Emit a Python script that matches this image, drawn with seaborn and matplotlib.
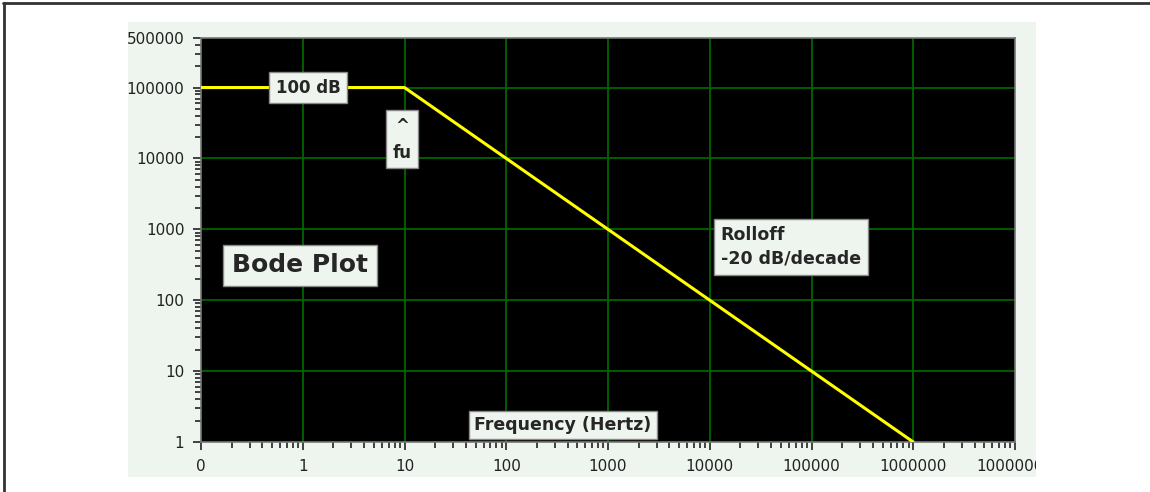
import numpy as np
import pandas as pd
import matplotlib
matplotlib.use("Agg")
import matplotlib.pyplot as plt
from matplotlib.patches import Rectangle
import seaborn as sns

# Dữ liệu
freq = [0.1, 1, 10, 100, 1000, 10000, 100000, 1000000]
gain = [100000, 100000, 100000, 10000, 1000, 100, 10, 1]

x_ticks = [0.1, 1, 10, 100, 1000, 10000, 100000, 1000000, 10000000]
x_labels = ["0", "1", "10", "100", "1000", "10000", "100000", "1000000", "10000000"]
y_ticks = [1, 10, 100, 1000, 10000, 100000, 500000]
y_labels = ["1", "10", "100", "1000", "10000", "100000", "500000"]

df = pd.DataFrame({"freq": freq, "gain": gain})

sns.set_style("ticks")
plt.rcParams["font.family"] = ["DejaVu Sans"]

W, H = 1150, 492
fig = plt.figure(figsize=(W / 100, H / 100), dpi=100)
fig.patch.set_facecolor("white")

# nền xanh nhạt phía sau
panel = Rectangle((128 / W, 1 - 477 / H), 908 / W, 455 / H, transform=fig.transFigure,
                  facecolor="#eef5ee", edgecolor="none", zorder=-10)
fig.patches.append(panel)
# khung đen ở trên và bên trái
fig.add_artist(plt.Line2D([3 / W, 1], [1 - 3 / H, 1 - 3 / H], transform=fig.transFigure,
                          color="#333333", lw=2))
fig.add_artist(plt.Line2D([4 / W, 4 / W], [0, 1 - 3 / H], transform=fig.transFigure,
                          color="#333333", lw=2))

ax = fig.add_axes([201 / W, 1 - 442 / H, (1015 - 201) / W, (442 - 38) / H])
ax.set_facecolor("black")

sns.lineplot(data=df, x="freq", y="gain", ax=ax, color="#ffff00", lw=2.2, zorder=3)

ax.set_xscale("log")
ax.set_yscale("log")
ax.set_xlim(0.1, 10000000)
ax.set_ylim(1, 500000)

ax.set_xticks(x_ticks)
ax.set_xticklabels(x_labels, fontsize=11, color="#222222")
ax.set_yticks(y_ticks)
ax.set_yticklabels(y_labels, fontsize=11, color="#222222")
ax.set_xlabel("")
ax.set_ylabel("")

ax.tick_params(which="major", length=6, width=1.2, color="#222222", pad=6)
ax.tick_params(which="minor", length=4, width=1.2, color="#222222")

# lưới xanh lá ở các thập phân
for xv in x_ticks[1:-1]:
    ax.axvline(xv, color="#006400", lw=1.3, zorder=1)
for yv in y_ticks[1:-1]:
    ax.axhline(yv, color="#006400", lw=1.3, zorder=1)

for s in ax.spines.values():
    s.set_color("#777777")
    s.set_linewidth(1.2)

# cắt nhãn cuối ở mép nền
ax.get_xticklabels()[-1].set_clip_path(panel)

box = dict(boxstyle="square,pad=0.4", facecolor="#eef5ee", edgecolor="#888888", lw=1)
ax.text(1.13, 100000, "100 dB", fontsize=12, fontweight="bold", ha="center", va="center",
        bbox=box, zorder=5)
ax.text(9.45, 18600, "^\nfu", fontsize=12, fontweight="bold", ha="center", va="center",
        linespacing=1.6, bbox=box, zorder=5)
ax.text(0.94, 310, "Bode Plot", fontsize=18, fontweight="bold", ha="center", va="center",
        bbox=dict(boxstyle="square,pad=0.35", facecolor="#eef5ee", edgecolor="#888888", lw=1),
        zorder=5)
ax.text(12800, 560, "Rolloff\n-20 dB/decade", fontsize=12.5, fontweight="bold", ha="left",
        va="center", linespacing=1.4, bbox=box, zorder=5)
ax.text(361, 1.75, "Frequency (Hertz)", fontsize=12.5, fontweight="bold", ha="center",
        va="center", bbox=dict(boxstyle="square,pad=0.3", facecolor="#eef5ee",
                               edgecolor="#888888", lw=1), zorder=5)

fig.savefig("out.png", dpi=100)
